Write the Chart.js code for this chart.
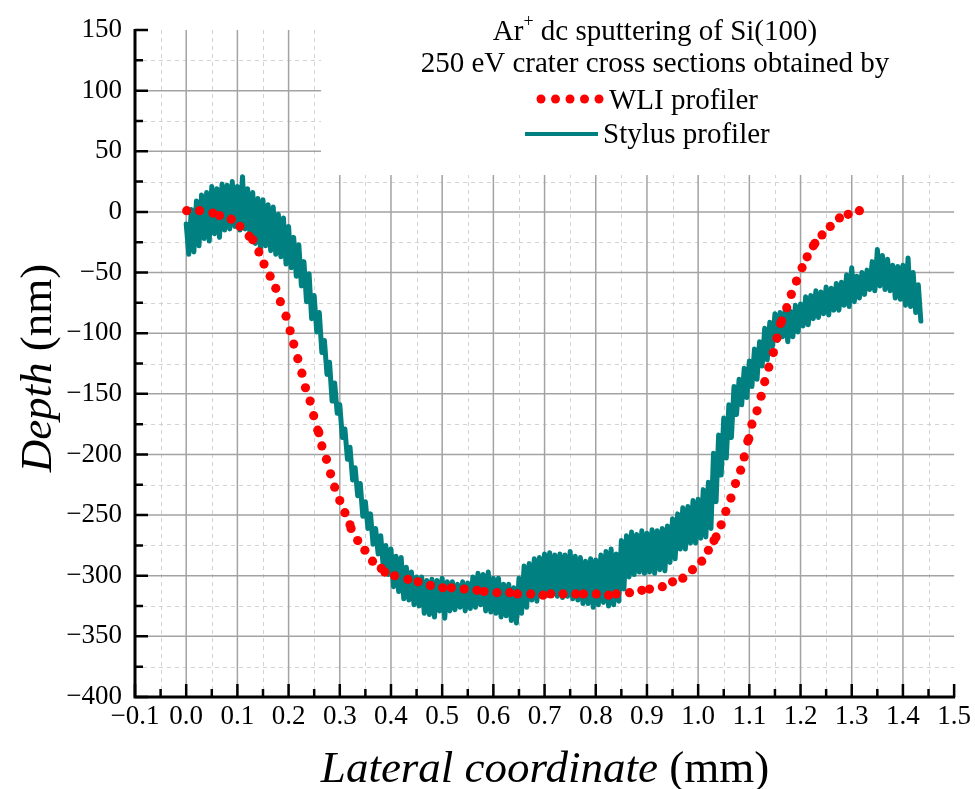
<!DOCTYPE html>
<html>
<head>
<meta charset="utf-8">
<script src="https://cdn.jsdelivr.net/npm/chart.js@4.4.1/dist/chart.umd.min.js"></script>
<style>
  html, body { margin: 0; padding: 0; background: #fff; }
  canvas { display: block; }
</style>
</head>
<body>
<canvas id="chart" width="975" height="789"></canvas>
<script>
// WLI profiler
const wliX = [
  0.001, 0.026, 0.052, 0.065, 0.088, 0.105, 0.123, 0.130, 0.142, 0.152,
  0.164, 0.175, 0.184, 0.195, 0.203, 0.210, 0.218, 0.226, 0.233, 0.242,
  0.249, 0.257, 0.259, 0.265, 0.274, 0.282, 0.290, 0.300, 0.310, 0.320,
  0.322, 0.335, 0.349, 0.364, 0.381, 0.388, 0.407, 0.433, 0.453, 0.477,
  0.501, 0.518, 0.543, 0.568, 0.582, 0.607, 0.632, 0.647, 0.673, 0.697,
  0.712, 0.736, 0.761, 0.776, 0.801, 0.825, 0.840, 0.866, 0.890, 0.905,
  0.930, 0.950, 0.970, 0.989, 1.007, 1.020, 1.031, 1.035, 1.045, 1.054,
  1.064, 1.073, 1.083, 1.090, 1.097, 1.099, 1.105, 1.115, 1.123, 1.130,
  1.138, 1.147, 1.154, 1.161, 1.163, 1.173, 1.182, 1.192, 1.203, 1.213,
  1.225, 1.228, 1.242, 1.258, 1.276, 1.293, 1.315
];
const wliDepth = [
  1, 1, -1, -3, -6, -12, -20, -23, -33, -43,
  -53, -63, -74, -86, -98, -109, -121, -133, -145, -156,
  -168, -180, -182, -193, -204, -216, -227, -238, -248, -258,
  -261, -271, -279, -288, -294, -297, -300, -303, -305, -308,
  -310, -310, -311, -312, -313, -314, -314, -315, -315, -316,
  -315, -315, -315, -315, -315, -316, -315, -314, -312, -311,
  -309, -305, -302, -295, -288, -279, -271, -268, -258, -247,
  -236, -224, -213, -202, -189, -187, -175, -164, -152, -140,
  -128, -116, -104, -92, -90, -79, -68, -57, -46, -37,
  -28, -26, -19, -12, -5, -2, 1
];

// Stylus profiler, sampled every 0.005 mm from 0.0 mm (noisy trace)
const stylusStartX = 0.0;
const stylusStepX = 0.005;
const stylusDepth = [
  -10, -35, 2, -33, 9, -28, 14, -22, 16, -24, 21, -18, 19, -21, 23, -15, 22, -14, 25, -12,
  21, -15, 29, -14, 19, -22, 16, -26, 11, -30, 10, -28, 6, -32, 4, -35, -2, -37, -5, -43,
  -12, -46, -21, -53, -27, -61, -41, -74, -51, -88, -69, -99, -83, -116, -106, -134, -124, -156, -141, -166,
  -159, -186, -179, -204, -194, -221, -211, -234, -224, -251, -239, -261, -249, -274, -261, -282, -267, -293, -275, -299,
  -278, -309, -284, -313, -285, -319, -293, -320, -297, -324, -301, -325, -301, -331, -304, -332, -303, -334, -304, -329,
  -302, -335, -305, -329, -305, -328, -307, -326, -305, -329, -306, -327, -301, -326, -298, -324, -299, -329, -297, -330,
  -302, -331, -302, -334, -307, -333, -307, -337, -310, -339, -302, -331, -292, -326, -290, -320, -286, -321, -285, -317,
  -282, -316, -281, -313, -283, -317, -282, -318, -283, -317, -280, -319, -284, -320, -285, -323, -288, -323, -286, -326,
  -287, -324, -283, -322, -280, -325, -278, -324, -282, -321, -271, -311, -267, -301, -264, -299, -266, -297, -263, -298,
  -265, -297, -262, -298, -263, -295, -261, -296, -259, -289, -253, -286, -249, -278, -244, -278, -243, -273, -238, -273,
  -237, -269, -229, -268, -223, -261, -199, -239, -184, -217, -170, -203, -159, -186, -144, -167, -138, -159, -129, -153,
  -123, -144, -113, -138, -107, -127, -96, -122, -91, -111, -84, -106, -83, -103, -81, -107, -82, -103, -77, -99,
  -76, -94, -70, -93, -69, -88, -65, -87, -66, -84, -62, -85, -63, -81, -59, -81, -58, -77, -52, -78,
  -46, -74, -53, -71, -50, -68, -48, -64, -41, -65, -31, -61, -36, -64, -39, -65, -44, -71, -45, -72,
  -44, -77, -38, -78, -50, -83, -60, -90
];

const xMin = -0.1, xMax = 1.5, xStep = 0.1;
const yMin = -400, yMax = 150, yStep = 50;

const SERIF = "'Liberation Serif', 'DejaVu Serif', serif";
const TEAL = '#008080';
const RED = '#ff0000';

function minus(s) {
  return s.replace('-', '\u2212');
}

// grid: dashed minor lines halfway between ticks, grey solid major lines
const paperGrid = {
  id: 'paperGrid',
  beforeDatasetsDraw(chart) {
    const { ctx, chartArea: a, scales: { x, y } } = chart;
    const xv = x.ticks.map(t => t.value);
    const yv = y.ticks.map(t => t.value);
    ctx.save();
    ctx.lineWidth = 1;
    ctx.strokeStyle = '#d2d2d2';
    ctx.setLineDash([4, 4]);
    ctx.beginPath();
    for (let i = 0; i < xv.length - 1; i++) {
      const px = Math.round(x.getPixelForValue((xv[i] + xv[i + 1]) / 2)) + 0.5;
      ctx.moveTo(px, a.top); ctx.lineTo(px, a.bottom);
    }
    for (let i = 0; i < yv.length - 1; i++) {
      const py = Math.round(y.getPixelForValue((yv[i] + yv[i + 1]) / 2)) + 0.5;
      ctx.moveTo(a.left, py); ctx.lineTo(a.right, py);
    }
    ctx.stroke();

    ctx.setLineDash([]);
    ctx.strokeStyle = '#a3a3a3';
    ctx.lineWidth = 1.5;
    ctx.beginPath();
    for (let i = 1; i < xv.length - 1; i++) {
      const px = x.getPixelForValue(xv[i]);
      ctx.moveTo(px, a.top); ctx.lineTo(px, a.bottom);
    }
    for (let i = 1; i < yv.length - 1; i++) {
      const py = y.getPixelForValue(yv[i]);
      ctx.moveTo(a.left, py); ctx.lineTo(a.right, py);
    }
    ctx.stroke();

    // the legend sits on a white patch over the grid
    ctx.fillStyle = '#fff';
    ctx.fillRect(321, 0, chart.width - 321, 175);
    ctx.restore();
  }
};

function drawMixed(ctx, parts, cx, baseY) {
  // parts: [text, font, dy]; centred on cx
  let total = 0;
  parts.forEach(p => { ctx.font = p[1]; total += ctx.measureText(p[0]).width; });
  let sx = cx - total / 2;
  ctx.textAlign = 'left';
  parts.forEach(p => {
    ctx.font = p[1];
    ctx.fillText(p[0], sx, baseY + (p[2] || 0));
    sx += ctx.measureText(p[0]).width;
  });
}

// black axes with inward ticks, legend and axis titles
const frameAndText = {
  id: 'frameAndText',
  afterDatasetsDraw(chart) {
    const { ctx, chartArea: a, scales: { x, y } } = chart;
    const xv = x.ticks.map(t => t.value);
    const yv = y.ticks.map(t => t.value);
    ctx.save();
    ctx.strokeStyle = '#000';
    ctx.lineWidth = 2.5;
    ctx.beginPath();
    xv.forEach((v, i) => {
      const px = x.getPixelForValue(v);
      ctx.moveTo(px, a.bottom); ctx.lineTo(px, a.bottom - 13);
      if (i < xv.length - 1) {
        const pm = x.getPixelForValue((v + xv[i + 1]) / 2);
        ctx.moveTo(pm, a.bottom); ctx.lineTo(pm, a.bottom - 8);
      }
    });
    yv.forEach((v, i) => {
      const py = y.getPixelForValue(v);
      ctx.moveTo(a.left, py); ctx.lineTo(a.left + 13, py);
      if (i < yv.length - 1) {
        const pm = y.getPixelForValue((v + yv[i + 1]) / 2);
        ctx.moveTo(a.left, pm); ctx.lineTo(a.left + 8, pm);
      }
    });
    ctx.stroke();
    ctx.lineWidth = 3;
    ctx.beginPath();
    ctx.moveTo(a.left, a.top - 1);
    ctx.lineTo(a.left, a.bottom);
    ctx.lineTo(a.right + 1, a.bottom);
    ctx.stroke();

    // legend block
    const cx = 655;
    const f = `29px ${SERIF}`;
    ctx.fillStyle = '#000';
    ctx.textBaseline = 'alphabetic';
    drawMixed(ctx, [['Ar', f], ['+', `18px ${SERIF}`, -13], [' dc sputtering of Si(100)', f]], cx, 40);
    drawMixed(ctx, [['250 eV crater cross sections obtained by', f]], cx, 72);

    ctx.fillStyle = RED;
    for (let i = 0; i < 5; i++) {
      ctx.beginPath();
      ctx.arc(541 + i * 14.5, 99, 4.5, 0, Math.PI * 2);
      ctx.fill();
    }
    ctx.fillStyle = '#000';
    ctx.font = f;
    ctx.textAlign = 'left';
    ctx.fillText('WLI profiler', 609, 109);
    ctx.strokeStyle = TEAL;
    ctx.lineWidth = 4;
    ctx.beginPath();
    ctx.moveTo(525, 134); ctx.lineTo(598, 134);
    ctx.stroke();
    ctx.fillText('Stylus profiler', 603, 143);

    // axis titles: italic quantity, upright unit
    const fi = `italic 45px ${SERIF}`, fu = `45px ${SERIF}`;
    drawMixed(ctx, [['Lateral coordinate', fi], [' (mm)', fu]], 545, 782);

    ctx.translate(51, 368);
    ctx.rotate(-Math.PI / 2);
    drawMixed(ctx, [['Depth', fi], [' (nm)', fu]], 0, 0);
    ctx.restore();
  }
};

const ctx = document.getElementById('chart').getContext('2d');
Chart.defaults.font.family = SERIF;
Chart.defaults.color = '#000';

new Chart(ctx, {
  type: 'scatter',
  data: {
    datasets: [
      {
        label: 'WLI profiler',
        data: wliX.map((v, i) => ({ x: v, y: wliDepth[i] })),
        showLine: false,
        pointRadius: 4.6,
        pointBackgroundColor: RED,
        pointBorderWidth: 0
      },
      {
        label: 'Stylus profiler',
        data: stylusDepth.map((v, i) => ({ x: stylusStartX + i * stylusStepX, y: v })),
        showLine: true,
        borderColor: TEAL,
        borderWidth: 5,
        borderJoinStyle: 'round',
        borderCapStyle: 'round',
        pointRadius: 0,
        tension: 0
      }
    ]
  },
  options: {
    responsive: false,
    animation: false,
    devicePixelRatio: 1,
    layout: { padding: { top: 30, right: 17, left: 0, bottom: 0 } },
    plugins: {
      legend: { display: false },
      tooltip: { enabled: false }
    },
    scales: {
      x: {
        type: 'linear',
        min: xMin,
        max: xMax,
        grid: { display: false, drawTicks: false },
        border: { display: false },
        afterFit(scale) { scale.height = 92; },
        ticks: {
          stepSize: xStep,
          autoSkip: false,
          maxRotation: 0,
          padding: 4,
          font: { size: 27 },
          callback: v => minus((Math.abs(v) < 1e-9 ? 0 : v).toFixed(1))
        }
      },
      y: {
        type: 'linear',
        min: yMin,
        max: yMax,
        grid: { display: false, drawTicks: false },
        border: { display: false },
        afterFit(scale) { scale.width = 135; },
        ticks: {
          stepSize: yStep,
          autoSkip: false,
          padding: 13,
          font: { size: 27 },
          callback: v => minus(String(v))
        }
      }
    }
  },
  plugins: [paperGrid, frameAndText]
});
</script>
</body>
</html>
